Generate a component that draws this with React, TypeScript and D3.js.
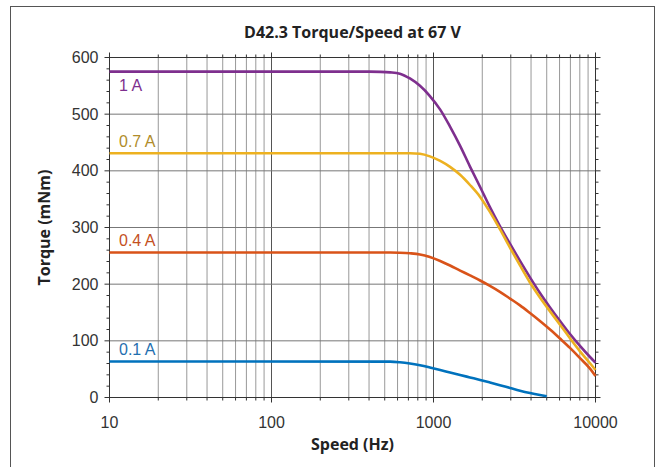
import React from "react";
import * as d3 from "d3";

// torque / speed curves (Hz, mNm)
const speeds1A = [10, 400, 470, 540, 620, 715, 825, 950, 1100, 1265, 1460, 1680, 1940, 2230, 2570, 2970, 3420, 3940, 4540, 5240, 6040, 6960, 8020, 9250, 10000];
const torque1A = [575, 575, 574.7, 573.8, 571.5, 563, 550, 532, 508, 478, 444, 407.5, 371.5, 336, 302.5, 271, 241, 212, 184.5, 159, 135, 112, 91, 71.5, 61.5];

const speeds07A = [10, 716, 825, 950, 1100, 1265, 1460, 1680, 1940, 2230, 2570, 2970, 3420, 3940, 4540, 5240, 6040, 6960, 8020, 9250, 10000];
const torque07A = [431, 431, 430, 425.5, 417.5, 407, 393, 375, 354, 327.5, 297, 264, 233, 203, 176.5, 152, 128.5, 104.5, 81.5, 60.5, 48.5];

const speeds04A = [10, 540, 620, 715, 825, 950, 1100, 1265, 1460, 1680, 1940, 2230, 2570, 2970, 3420, 3940, 4540, 5240, 6040, 6960, 8020, 9250, 10000];
const torque04A = [256, 256, 255.5, 254.5, 252.5, 248, 241, 233, 224, 215.5, 206.5, 197, 186.5, 174.5, 162.5, 149, 135, 120, 104, 87.5, 69.5, 51, 38];

const speeds01A = [10, 540, 620, 715, 825, 950, 1100, 1265, 1460, 1680, 1940, 2230, 2570, 2970, 3420, 3940, 4540, 5000];
const torque01A = [63.5, 63.3, 62.2, 60, 56.8, 52.9, 48.5, 44.1, 39.7, 35.4, 31, 26.5, 21.8, 16.8, 12, 7.9, 4.4, 2.3];

const seriesNames = ["1 A", "0.7 A", "0.4 A", "0.1 A"];
const lineColors = ["#7E2F8E", "#EDB120", "#D95319", "#0072BD"];
const labelColors = ["#7E2F8E", "#B08C2A", "#C4501E", "#1F6FB0"];

const xTickLabels = [10, 100, 1000, 10000];
const yTickLabels = [0, 100, 200, 300, 400, 500, 600];

const W = 658;
const H = 467;
const left = 109.5;
const right = 595.5;
const top = 57.5;
const bottom = 397.5;

const App = () => {
  const x = d3.scaleLog().domain([10, 10000]).range([left, right]);
  const y = d3.scaleLinear().domain([0, 600]).range([bottom, top]);

  const series = [
    { s: speeds1A, t: torque1A },
    { s: speeds07A, t: torque07A },
    { s: speeds04A, t: torque04A },
    { s: speeds01A, t: torque01A },
  ];

  const line = d3
    .line<[number, number]>()
    .x(d => x(d[0]))
    .y(d => y(d[1]))
    .curve(d3.curveMonotoneX);

  // minor log ticks 20..90, 200..900, 2000..9000
  const minorX: number[] = [];
  [10, 100, 1000].forEach(dec => {
    for (let k = 2; k <= 9; k++) minorX.push(dec * k);
  });
  const minorY = d3.range(0, 601, 20).filter(v => v % 100 !== 0);

  const axisColor = "#333";
  const sans = "'Liberation Sans', Arial, sans-serif";
  const bold = "'Open Sans', 'Noto Sans', sans-serif";

  return (
    <svg
      width={W}
      height={H}
      style={{ position: "absolute", left: 0, top: 0, background: "#fff" }}
    >
      <rect x={10.5} y={6.5} width={644} height={H + 10} fill="#fff" stroke="#555" />

      <text
        x={(left + right) / 2}
        y={38}
        textAnchor="middle"
        fontFamily={bold}
        fontWeight="bold"
        fontSize={16}
        fill="#222"
      >
        D42.3 Torque/Speed at 67 V
      </text>

      {/* grid */}
      <g>
        {minorX.map(v => (
          <line key={"mx" + v} x1={x(v)} x2={x(v)} y1={top} y2={bottom} stroke="#999" />
        ))}
        {xTickLabels.map(v => (
          <line key={"gx" + v} x1={x(v)} x2={x(v)} y1={top} y2={bottom} stroke="#555" />
        ))}
        {yTickLabels.map(v => (
          <line key={"gy" + v} x1={left} x2={right} y1={y(v)} y2={y(v)} stroke="#777" />
        ))}
      </g>

      {/* axes box + ticks */}
      <g stroke={axisColor}>
        <rect x={left} y={top} width={right - left} height={bottom - top} fill="none" />
        {yTickLabels.map(v => (
          <g key={"ty" + v}>
            <line x1={left - 5} x2={left} y1={y(v)} y2={y(v)} />
            <line x1={right} x2={right + 5} y1={y(v)} y2={y(v)} />
          </g>
        ))}
        {minorY.map(v => (
          <g key={"tmy" + v}>
            <line x1={left - 3} x2={left} y1={y(v)} y2={y(v)} />
            <line x1={right} x2={right + 3} y1={y(v)} y2={y(v)} />
          </g>
        ))}
        {xTickLabels.map(v => (
          <g key={"tx" + v}>
            <line x1={x(v)} x2={x(v)} y1={bottom} y2={bottom + 5} />
            <line x1={x(v)} x2={x(v)} y1={top - 5} y2={top} />
          </g>
        ))}
        {minorX.map(v => (
          <g key={"tmx" + v}>
            <line x1={x(v)} x2={x(v)} y1={bottom} y2={bottom + 3} />
            <line x1={x(v)} x2={x(v)} y1={top - 3} y2={top} />
          </g>
        ))}
      </g>

      {/* curves */}
      {series.map((d, i) => (
        <path
          key={seriesNames[i]}
          d={line(d.s.map((s, j) => [s, d.t[j]] as [number, number])) || ""}
          fill="none"
          stroke={lineColors[i]}
          strokeWidth={2.6}
          strokeLinejoin="round"
        />
      ))}

      {/* curve labels */}
      {series.map((d, i) => (
        <text
          key={"lab" + i}
          x={119}
          y={i === 0 ? y(d.t[0]) + 19.5 : y(d.t[0]) - 6.5}
          fontFamily={sans}
          fontSize={16}
          fill={labelColors[i]}
        >
          {seriesNames[i]}
        </text>
      ))}

      {/* tick labels */}
      {yTickLabels.map(v => (
        <text
          key={"ly" + v}
          x={left - 11}
          y={y(v)}
          dy="0.35em"
          textAnchor="end"
          fontFamily={sans}
          fontSize={16}
          fill="#333"
        >
          {v}
        </text>
      ))}
      {xTickLabels.map(v => (
        <text
          key={"lx" + v}
          x={x(v)}
          y={428}
          textAnchor="middle"
          fontFamily={sans}
          fontSize={16}
          fill="#333"
        >
          {v}
        </text>
      ))}

      <text
        x={(left + right) / 2}
        y={450}
        textAnchor="middle"
        fontFamily={bold}
        fontWeight="bold"
        fontSize={16}
        fill="#222"
      >
        Speed (Hz)
      </text>
      <text
        transform={`translate(50, ${(top + bottom) / 2}) rotate(-90)`}
        textAnchor="middle"
        fontFamily={bold}
        fontWeight="bold"
        fontSize={16}
        fill="#222"
      >
        Torque (mNm)
      </text>
    </svg>
  );
};

export default App;
